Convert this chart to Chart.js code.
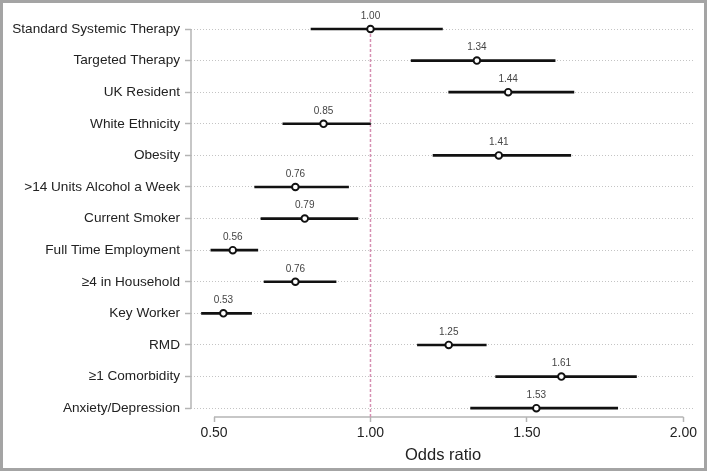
<!DOCTYPE html>
<html>
<head>
<meta charset="utf-8">
<script src="https://cdn.jsdelivr.net/npm/chart.js@4/dist/chart.umd.min.js"></script>
<style>
  html, body { margin: 0; padding: 0; background: #fff; }
  #wrap { position: relative; width: 709px; height: 472px; }
  #frame { position: absolute; left: 0; top: 0; width: 701px; height: 465px; border: 3px solid #a4a4a4; pointer-events: none; }
  canvas { position: absolute; left: 0; top: 0; }
</style>
</head>
<body>
<div id="wrap">
  <canvas id="c" width="709" height="472"></canvas>
  <div id="frame"></div>
</div>
<script>
const categories = [
  "Standard Systemic Therapy", "Targeted Therapy", "UK Resident", "White Ethnicity",
  "Obesity", ">14 Units Alcohol a Week", "Current Smoker", "Full Time Employment",
  "\u22654 in Household", "Key Worker", "RMD", "\u22651 Comorbidity", "Anxiety/Depression"
];
const oddsRatio = [1.00, 1.34, 1.44, 0.85, 1.41, 0.76, 0.79, 0.56, 0.76, 0.53, 1.25, 1.61, 1.53];
const ciLower   = [0.81, 1.13, 1.25, 0.72, 1.20, 0.63, 0.65, 0.49, 0.66, 0.46, 1.15, 1.40, 1.32];
const ciUpper   = [1.23, 1.59, 1.65, 1.00, 1.64, 0.93, 0.96, 0.64, 0.89, 0.62, 1.37, 1.85, 1.79];
const xTicks = [0.5, 1.0, 1.5, 2.0];
const referenceValue = 1.0;

const Y_MAX = 12.28;

const ciData = categories.map((c, i) => ({ y: i, x: [ciLower[i], ciUpper[i]] }));
const pointData = categories.map((c, i) => ({ y: i, x: oddsRatio[i] }));

const axisLines = {
  id: 'axisLines',
  beforeDatasetsDraw(chart) {
    const { ctx, scales: { x, y } } = chart;
    ctx.save();
    ctx.strokeStyle = '#b4b4b4';
    ctx.lineWidth = 1.5;
    const yl = chart.chartArea.left;
    ctx.beginPath();
    ctx.moveTo(yl, y.getPixelForValue(0));
    ctx.lineTo(yl, y.getPixelForValue(categories.length - 1));
    ctx.stroke();
    const xb = chart.chartArea.bottom;
    ctx.beginPath();
    ctx.moveTo(x.getPixelForValue(xTicks[0]), xb);
    ctx.lineTo(x.getPixelForValue(xTicks[xTicks.length - 1]), xb);
    ctx.stroke();
    ctx.restore();
  }
};

const valueLabels = {
  id: 'valueLabels',
  afterDatasetsDraw(chart) {
    const { ctx } = chart;
    const meta = chart.getDatasetMeta(2);
    ctx.save();
    ctx.font = '10px "Liberation Sans", Arial, sans-serif';
    ctx.fillStyle = '#444';
    ctx.textAlign = 'center';
    ctx.textBaseline = 'middle';
    meta.data.forEach((el, i) => {
      ctx.fillText(oddsRatio[i].toFixed(2), el.x, el.y - 13);
    });
    ctx.restore();
  }
};

new Chart(document.getElementById('c'), {
  type: 'bar',
  data: {
    datasets: [
      {
        type: 'line',
        data: [{ x: referenceValue, y: 0 }, { x: referenceValue, y: Y_MAX }],
        borderColor: '#d68fb2',
        borderWidth: 1.5,
        borderDash: [3, 2],
        pointRadius: 0,
        fill: false,
        order: 3
      },
      {
        type: 'bar',
        data: ciData,
        backgroundColor: '#111',
        borderWidth: 0,
        barThickness: 2,
        clip: false,
        order: 2
      },
      {
        type: 'scatter',
        data: pointData,
        pointStyle: 'circle',
        pointRadius: 3.3,
        borderWidth: 1.9,
        borderColor: '#111',
        backgroundColor: '#fff',
        clip: false,
        order: 1
      }
    ]
  },
  options: {
    indexAxis: 'y',
    responsive: false,
    animation: false,
    devicePixelRatio: 1,
    layout: { padding: { left: 0, top: 29, right: 14, bottom: 0 } },
    plugins: { legend: { display: false }, tooltip: { enabled: false } },
    scales: {
      x: {
        type: 'linear',
        min: 0.4265,
        max: 2.037,
        offset: false,
        afterBuildTicks: s => { s.ticks = xTicks.map(v => ({ value: v })); },
        afterFit: s => { s.height = 55; },
        border: { display: false },
        grid: { offset: false, drawOnChartArea: false, drawTicks: true, tickLength: 5, tickColor: '#b4b4b4', tickWidth: 1.5 },
        ticks: {
          padding: 3,
          color: '#222',
          font: { family: '"Liberation Sans", Arial, sans-serif', size: 14 },
          callback: v => Number(v).toFixed(2),
          maxRotation: 0
        },
        title: {
          display: true,
          text: 'Odds ratio',
          color: '#222',
          font: { family: '"Liberation Sans", Arial, sans-serif', size: 16.5 },
          padding: { top: 0, bottom: 7 }
        }
      },
      y: {
        type: 'linear',
        reverse: true,
        min: 0,
        max: Y_MAX,
        offset: false,
        afterBuildTicks: s => { s.ticks = categories.map((c, i) => ({ value: i })); },
        afterFit: s => { s.width = 191; },
        border: { display: false, dash: [1, 2] },
        grid: {
          offset: false,
          color: '#c4c4c4',
          lineWidth: 1,
          drawTicks: true,
          tickLength: 6,
          tickColor: '#b4b4b4',
          tickWidth: 1.5,
          tickBorderDash: []
        },
        ticks: {
          padding: 5,
          color: '#222',
          font: { family: '"Liberation Sans", Arial, sans-serif', size: 13.6 },
          callback: v => categories[v]
        }
      }
    }
  },
  plugins: [axisLines, valueLabels]
});
</script>
</body>
</html>
